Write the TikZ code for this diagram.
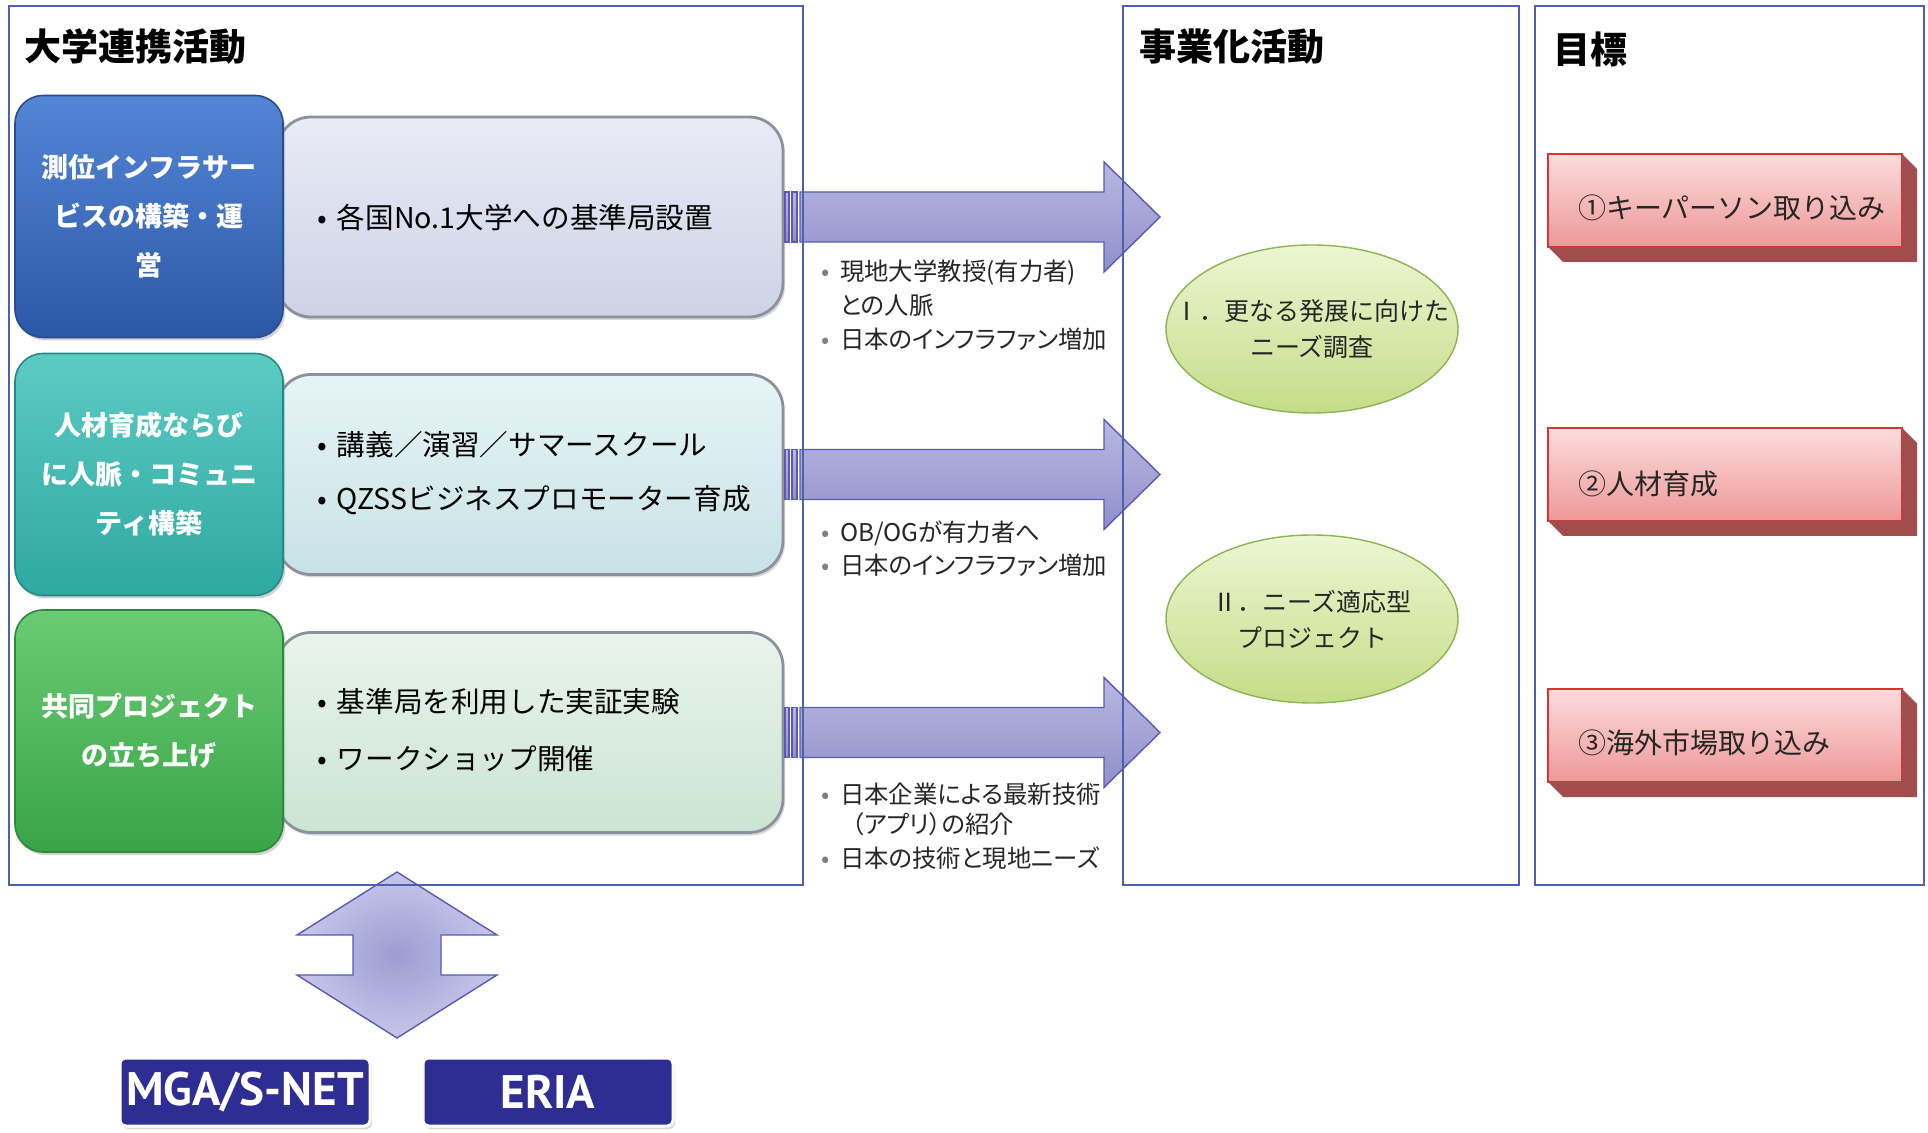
\documentclass[tikz,border=0pt]{standalone}
\usepackage{fontspec}
\setmainfont{Noto Sans CJK JP}
\newfontfamily\jpp[RawFeature=+palt]{Noto Sans CJK JP}
\newfontfamily\orgfont{PT Sans}
\usetikzlibrary{shapes.geometric,shadows,calc}
\definecolor{panelc}{HTML}{5060B0}
\definecolor{lightdraw}{HTML}{8C919E}
\definecolor{lonetop}{HTML}{E9EBF5}
\definecolor{lonebot}{HTML}{CDD2E6}
\definecolor{ltwotop}{HTML}{E6F4F6}
\definecolor{ltwobot}{HTML}{C8E2E6}
\definecolor{lthreetop}{HTML}{E8F4EC}
\definecolor{lthreebot}{HTML}{CCE4D2}
\definecolor{bluetop}{HTML}{5486D6}
\definecolor{bluebot}{HTML}{2B58A6}
\definecolor{bluedraw}{HTML}{2A4C8C}
\definecolor{tealtop}{HTML}{5CCBC4}
\definecolor{tealbot}{HTML}{2EA8A1}
\definecolor{tealdraw}{HTML}{238A84}
\definecolor{greentop}{HTML}{6ACB74}
\definecolor{greenbot}{HTML}{39A447}
\definecolor{greendraw}{HTML}{2E8A3A}
\definecolor{arrowtop}{HTML}{B8B8E2}
\definecolor{arrowbot}{HTML}{9090CA}
\definecolor{arrowdraw}{HTML}{5A5AB4}
\definecolor{elltop}{HTML}{EEF5D2}
\definecolor{ellbot}{HTML}{C4DD88}
\definecolor{elldraw}{HTML}{8CB452}
\definecolor{goaltop}{HTML}{FCDCDC}
\definecolor{goalbot}{HTML}{EE9898}
\definecolor{goaldraw}{HTML}{D83434}
\definecolor{goalsidec}{HTML}{A24D4D}
\definecolor{orgfill}{HTML}{2D2D94}
\definecolor{dblin}{HTML}{9C9CD2}
\definecolor{dblout}{HTML}{C6C6EA}

\newcommand\blockarrow[1]{%
  \begin{scope}[shift={(#1.east)}]
    \draw[barrow] (2,-25) rectangle (6,25);
    \draw[barrow] (9,-25) rectangle (14,25);
    \draw[barrow] (17,-25) -- (321,-25) -- (321,-55) -- (377,0) -- (321,55) -- (321,25) -- (17,25) -- cycle;
  \end{scope}}

\newcommand\goalbox[4]{%
  \node[goalface] (#1) at (1725,#2) {};
  \fill[goalsidec] (#1.north east) -- ++(15,15) -- ++(0,93) -- ++(-354,0) -- (#1.south west) -- (#1.south east) -- cycle;
  \node[goaltext] (#1t) at (1578,#4) {#3};}

\begin{document}
\begin{tikzpicture}[x=0.5pt,y=-0.5pt,
  every node/.style={inner sep=0pt, outer sep=0pt},
  panelbox/.style={draw=panelc, line width=0.8pt, rectangle},
  ptitle/.style={font=\bfseries\fontsize{18.5}{20}\selectfont, anchor=west, text=black},
  catbox/.style={rectangle, rounded corners=14pt, minimum width=134pt, minimum height=121pt,
     line width=0.8pt, text=white, align=center, font=\bfseries\fontsize{13.5}{24.5}\selectfont,
     drop shadow={shadow xshift=1pt, shadow yshift=-1.5pt, opacity=0.35}},
  lightbox/.style={rectangle, rounded corners=17pt, minimum width=253pt, minimum height=100pt,
     draw=lightdraw, line width=1.4pt, drop shadow={shadow xshift=1pt, shadow yshift=-1.5pt, opacity=0.3}},
  itemtext/.style={anchor=west, font=\fontsize{14.3}{16}\selectfont, text=black},
  note/.style={anchor=west, font=\jpp\fontsize{12.2}{14}\selectfont, text=black!85},
  barrow/.style={top color=arrowtop, bottom color=arrowbot, draw=arrowdraw, line width=0.7pt},
  need/.style={ellipse, minimum width=146pt, minimum height=84pt, top color=elltop, bottom color=ellbot,
     draw=elldraw, line width=0.7pt},
  needtext/.style={align=center, font=\fontsize{12.5}{18}\selectfont, text=black!85},
  goalface/.style={rectangle, minimum width=177pt, minimum height=46.5pt, top color=goaltop,
     bottom color=goalbot, draw=goaldraw, line width=0.7pt},
  goaltext/.style={anchor=west, font=\fontsize{14}{16}\selectfont, text=black!85},
  orgbox/.style={rectangle, rounded corners=3pt, minimum width=125pt, minimum height=34pt,
     fill=orgfill, draw=white, line width=1.5pt, text=white,
     font=\orgfont\bfseries\fontsize{23.5}{24}\selectfont,
     drop shadow={shadow xshift=1pt, shadow yshift=-1.5pt, opacity=0.3}},
  dblarrow/.style={inner color=dblin, outer color=dblout, draw=arrowdraw, line width=0.7pt}
]
\useasboundingbox (0,0) rectangle (1928,1133);
\fill[white] (0,0) rectangle (1928,1133);

% titles
\node[ptitle] (T1) at (25,47) {大学連携活動};
\node[ptitle] (T2) at (1139,47) {事業化活動};
\node[ptitle] (T3) at (1553,49) {目標};

% light boxes
\node[lightbox, top color=lonetop, bottom color=lonebot] (L1) at (530,217) {};
\node[lightbox, top color=ltwotop, bottom color=ltwobot] (L2) at (530,474.5) {};
\node[lightbox, top color=lthreetop, bottom color=lthreebot] (L3) at (530,732.5) {};

% category boxes
\node[catbox, top color=bluetop, bottom color=bluebot, draw=bluedraw] (C1) at (149,216.5)
  {測位インフラサー\\ビスの構築・運\\営};
\node[catbox, top color=tealtop, bottom color=tealbot, draw=tealdraw] (C2) at (149,474.5)
  {人材育成ならび\\に人脈・コミュニ\\ティ構築};
\node[catbox, top color=greentop, bottom color=greenbot, draw=greendraw] (C3) at (149,731)
  {共同プロジェクト\\の立ち上げ};

% items
\node[itemtext] (I1) at (337,218) {\llap{•\hspace{5pt}}各国No.1大学への基準局設置};
\node[itemtext] (I2a) at (337,445) {\llap{•\hspace{5pt}}講義／演習／サマースクール};
\node[itemtext] (I2b) at (337,500) {\llap{•\hspace{5pt}}QZSSビジネスプロモーター育成};
\node[itemtext] (I3a) at (337,702) {\llap{•\hspace{5pt}}基準局を利用した実証実験};
\node[itemtext] (I3b) at (337,759) {\llap{•\hspace{5pt}}ワークショップ開催};

% block arrows
\blockarrow{L1}
\blockarrow{L2}
\blockarrow{L3}

% notes
\newcommand\nb{\llap{\textcolor{gray}{•}\hspace{5pt}}}
\node[note] (N1a) at (840,273) {\nb 現地大学教授(有力者)};
\node[note] (N1b) at (840,305) {との人脈};
\node[note] (N1c) at (840,339) {\nb 日本のインフラファン増加};
\node[note] (N2a) at (840,533) {\nb OB/OGが有力者へ};
\node[note] (N2b) at (840,565) {\nb 日本のインフラファン増加};
\node[note] (N3a) at (840,794) {\nb 日本企業による最新技術};
\node[note] (N3b) at (840,824) {\hspace{6pt}（アプリ）の紹介};
\node[note] (N3c) at (840,858) {\nb 日本の技術と現地ニーズ};

% ellipses
\node[need] (E1) at (1312,329) {};
\node[needtext] (E1t) at (E1) {Ⅰ．更なる発展に向けた\\ニーズ調査};
\node[need] (E2) at (1312,619) {};
\node[needtext] (E2t) at (E2) {Ⅱ．ニーズ適応型\\プロジェクト};

% goals
\goalbox{G1}{200.5}{①キーパーソン取り込み}{208}
\goalbox{G2}{474.5}{②人材育成}{484}
\goalbox{G3}{735.5}{③海外市場取り込み}{743}

% double arrow
\coordinate (DA) at (397,955);
\begin{scope}[shift={(DA)}]
  \draw[dblarrow] (0,-83) -- (100,-20) -- (44,-20) -- (44,20) -- (100,20) -- (0,83)
    -- (-100,20) -- (-44,20) -- (-44,-20) -- (-100,-20) -- cycle;
\end{scope}

% organisations
\node[orgbox] (M1) at (245,1092) {MGA/S-NET};
\node[orgbox] (M2) at (548,1092) {ERIA};

% panels
\node[panelbox, minimum width=397pt, minimum height=439.5pt] (P1) at (406,445.5) {};
\node[panelbox, minimum width=198pt, minimum height=439.5pt] (P2) at (1321,445.5) {};
\node[panelbox, minimum width=194.5pt, minimum height=439.5pt] (P3) at (1729.5,445.5) {};
\end{tikzpicture}
\end{document}
